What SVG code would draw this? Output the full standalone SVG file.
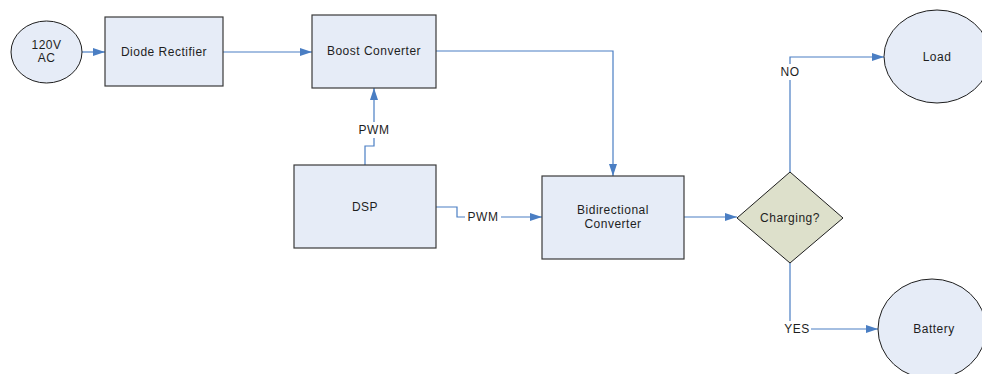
<svg xmlns="http://www.w3.org/2000/svg" width="982" height="374" viewBox="0 0 982 374">
  <defs>
    <style>
      .box { fill: #E6ECF7; stroke: #3A3A3A; stroke-width: 1.2; }
      .oval { fill: #E6ECF7; stroke: #1E1E1E; stroke-width: 1; }
      .dec { fill: #DDE0CB; stroke: #1E1E1E; stroke-width: 1; }
      .lbl { font-family: "Liberation Sans", Arial, sans-serif; font-size: 12px; letter-spacing: 0.5px; fill: #1E1E1E; text-anchor: middle; dominant-baseline: central; }
      .wire { fill: none; stroke: #4A7EC3; stroke-width: 1.2; }
      .tag { fill: #FFFFFF; }
    </style>
    <marker id="arrow" viewBox="0 0 12 10" refX="12" refY="5" markerWidth="12" markerHeight="10" markerUnits="userSpaceOnUse" orient="auto">
      <path d="M0,1 L12,5 L0,9 Z" fill="#4A7EC3"/>
    </marker>
  </defs>

  <!-- connectors -->
  <g id="connectors">
    <path class="wire" d="M82,52 H105" marker-end="url(#arrow)"/>
    <path class="wire" d="M223,52 H312" marker-end="url(#arrow)"/>
    <path class="wire" d="M436,51 H613 V176" marker-end="url(#arrow)"/>
    <path class="wire" d="M365,165 V146 H374 V88" marker-end="url(#arrow)"/>
    <path class="wire" d="M436,207 H457 V217 H542" marker-end="url(#arrow)"/>
    <path class="wire" d="M684,217 H737" marker-end="url(#arrow)"/>
    <path class="wire" d="M790,172 V57 H884" marker-end="url(#arrow)"/>
    <path class="wire" d="M790,263 V329 H878" marker-end="url(#arrow)"/>
    <rect class="tag" x="356" y="122" width="36" height="16"/>
    <text class="lbl" x="374" y="130">PWM</text>
    <rect class="tag" x="465" y="209" width="36" height="16"/>
    <text class="lbl" x="483" y="217">PWM</text>
    <rect class="tag" x="778" y="64" width="24" height="16"/>
    <text class="lbl" x="790" y="72">NO</text>
    <rect class="tag" x="783" y="321" width="28" height="16"/>
    <text class="lbl" x="797" y="329">YES</text>
  </g>

  <g id="source">
    <ellipse class="oval" cx="46.5" cy="52" rx="35.5" ry="31"/>
    <text class="lbl" x="46.5" y="45">120V</text>
    <text class="lbl" x="46.5" y="58">AC</text>
  </g>

  <g id="rectifier">
    <rect class="box" x="105" y="17" width="118" height="69"/>
    <text class="lbl" x="164" y="52">Diode Rectifier</text>
  </g>

  <g id="boost">
    <rect class="box" x="312" y="15" width="124" height="73"/>
    <text class="lbl" x="374" y="51">Boost Converter</text>
  </g>

  <g id="dsp">
    <rect class="box" x="294" y="165" width="142" height="83"/>
    <text class="lbl" x="365" y="207">DSP</text>
  </g>

  <g id="bidirectional">
    <rect class="box" x="542" y="176" width="142" height="83"/>
    <text class="lbl" x="613" y="210">Bidirectional</text>
    <text class="lbl" x="613" y="224">Converter</text>
  </g>

  <g id="charging">
    <polygon class="dec" points="790,172 843,218 790,263 737,218"/>
    <text class="lbl" x="790" y="218">Charging?</text>
  </g>

  <g id="load">
    <ellipse class="oval" cx="937" cy="56.5" rx="53" ry="46.5"/>
    <text class="lbl" x="937" y="57">Load</text>
  </g>

  <g id="battery">
    <ellipse class="oval" cx="932" cy="329" rx="54" ry="50"/>
    <text class="lbl" x="934" y="329">Battery</text>
  </g>
</svg>
